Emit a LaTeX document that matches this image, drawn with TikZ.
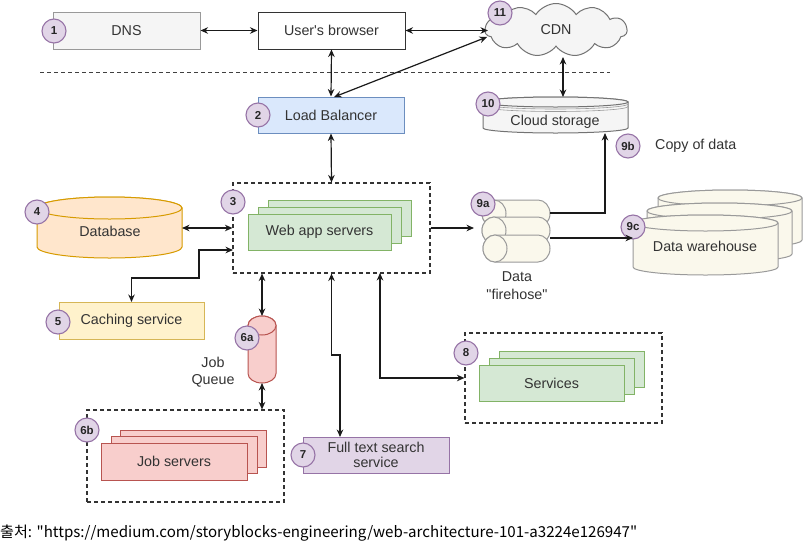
\documentclass[tikz,border=0pt]{standalone}
\usepackage{fontspec}
\setmainfont{Liberation Sans}[Ligatures=TeXOff]
\newfontfamily\krfont{Noto Sans CJK KR}[Ligatures=TeXOff]
\usetikzlibrary{shapes.symbols,arrows.meta}
\definecolor{txt}{HTML}{333333}
\definecolor{arr}{HTML}{1A1A1A}
\definecolor{bdgf}{HTML}{E1D5E7}
\definecolor{bdgd}{HTML}{9673A6}
\definecolor{grf}{HTML}{F5F5F5}
\definecolor{grd}{HTML}{999999}
\definecolor{blf}{HTML}{DAE8FC}
\definecolor{bld}{HTML}{6C8EBF}
\definecolor{gbf}{HTML}{D5E8D4}
\definecolor{gbd}{HTML}{82B366}
\definecolor{rbf}{HTML}{F8CECC}
\definecolor{rbd}{HTML}{B85450}
\definecolor{obf}{HTML}{FFE6CC}
\definecolor{obd}{HTML}{D79B00}
\definecolor{ybf}{HTML}{FFF2CC}
\definecolor{ybd}{HTML}{D6B656}
\definecolor{crf}{HTML}{FAF8EC}
\definecolor{crd}{HTML}{9A9A9A}
\newcommand\vcyl[6]{%
  \path[#1] (#2,#3+#6) -- (#2,#5-#6) arc[start angle=180,end angle=0,x radius={(#4-#2)/2},y radius=#6] -- (#4,#3+#6) arc[start angle=0,end angle=-180,x radius={(#4-#2)/2},y radius=#6] -- cycle;
  \path[#1] ({(#2+#4)/2},#3+#6) ellipse[x radius={(#4-#2)/2},y radius=#6];
}
\newcommand\hcyl[6]{%
  \path[#1] (#2+#6,#3) -- (#4-#6,#3) arc[start angle=-90,end angle=90,x radius=#6,y radius={(#5-#3)/2}] -- (#2+#6,#5) arc[start angle=90,end angle=270,x radius=#6,y radius={(#5-#3)/2}] -- cycle;
  \path[#1] (#2+#6,{(#3+#5)/2}) ellipse[x radius=#6,y radius={(#5-#3)/2}];
}
\begin{document}
\begin{tikzpicture}[x=1pt,y=-1pt,
  font=\fontsize{14.3}{16}\selectfont,
  >={Stealth[length=7.5pt,width=6.5pt]},
  every node/.style={text=txt},
  wh/.style 2 args={minimum width=#1,minimum height=#2},
  box/.style={draw, line width=1pt, inner sep=2pt, align=center},
  gbox/.style={box, draw=gbd, fill=gbf, wh={143}{36}},
  rbox/.style={box, draw=rbd, fill=rbf, wh={146}{37}},
  sbox/.style={box, draw=gbd, fill=gbf, wh={145}{36}},
  dbox/.style={draw=black!80, line width=1.1pt, dash pattern=on 4pt off 3pt, inner sep=0},
  badge/.style={circle, fill=bdgf, draw=bdgd, line width=1.1pt, minimum size=24pt, inner sep=0, font=\bfseries\fontsize{11.5}{12}\selectfont, text=black!85},
  conn/.style={draw=arr, line width=1.2pt},
  cyl/.style={fill=#1, draw=crd, line width=1pt},
  sep/.style={draw=black!75, line width=1pt, dash pattern=on 4pt off 3pt}]
\fill[white] (0,0) rectangle (808,552);
\useasboundingbox (0,0) rectangle (808,552);

% separator
\coordinate (sepL) at (40,72);
\coordinate (sepR) at (610,72);
\draw[sep] (sepL) -- (sepR);

% top row
\node[box, draw=grd, fill=grf, wh={147}{37}] (dns) at (126.5,30.5) {DNS};
\node[box, draw=black!80, fill=white, wh={147}{37}] (browser) at (331.5,30.5) {User's browser};
\node[cloud, cloud puffs=11, cloud puff arc=115, aspect=2.6, draw=black!55, fill=grf, line width=1pt, minimum width=142pt, minimum height=53pt, inner sep=0] (cdn) at (556,30) {CDN};

% load balancer and cloud storage
\node[box, draw=bld, fill=blf, wh={146}{36}] (lb) at (331,115) {Load Balancer};
\vcyl{cyl=grf, draw=black!55}{483}{97}{628}{133}{5}
\draw[black!40, line width=0.6pt] (483,104) arc[start angle=180,end angle=0,x radius=72.5,y radius=5];
\draw[black!40, line width=0.6pt] (483,106.5) arc[start angle=180,end angle=0,x radius=72.5,y radius=5];
\node (cs) at (555,122) {Cloud storage};
\node (copy) [anchor=west, inner sep=0] at (655,146) {Copy of data};

% web app servers
\node[dbox, wh={197}{90}] (webbox) at (331.5,228) {};
\node[gbox] (webc) at (339.5,218) {};
\node[gbox] (webb) at (329.5,225) {};
\node[gbox] (web) at (319.5,232) {Web app servers};

% database
\vcyl{cyl=obf, draw=obd}{37}{197}{182}{258}{11}
\node (db) at (110,231) {Database};

% caching
\node[box, draw=ybd, fill=ybf, wh={145}{37}] (cache) at (131.5,320.5) {Caching service};

% job queue
\vcyl{cyl=rbf, draw=rbd}{248}{316}{276}{383}{9.5}
\node[align=center, font=\fontsize{14.3}{17}\selectfont] (jql) at (213,372) {Job\\Queue};

% job servers
\node[dbox, wh={197}{92}] (jobbox) at (185.5,456) {};
\node[rbox] (jobc) at (193,448.5) {};
\node[rbox] (jobb) at (184,454.5) {};
\node[rbox] (job) at (174,461.5) {Job servers};

% full text search
\node[box, draw=bdgd, fill=bdgf, wh={146}{36}, inner sep=1pt, font=\fontsize{14.3}{15.5}\selectfont] (fts) at (376,455) {Full text search\\service};

% services
\node[dbox, wh={197}{90}] (svcbox) at (563.5,378) {};
\node[sbox] (svcc) at (571.5,369) {};
\node[sbox] (svcb) at (561.5,376) {};
\node[sbox] (svc) at (551.5,383) {Services};

% firehose
\hcyl{cyl=crf}{482}{200}{550}{227}{12}
\hcyl{cyl=crf}{482}{217}{550}{244}{12}
\hcyl{cyl=crf}{483}{235}{550}{262}{12}
\node[align=center, font=\fontsize{14.3}{18}\selectfont] (fhl) at (517,286) {Data\\"firehose"};

% data warehouse
\vcyl{cyl=crf}{658}{190}{802}{248}{8}
\vcyl{cyl=crf}{647}{203}{792}{262}{8}
\vcyl{cyl=crf}{633}{215}{778}{275}{8}
\node (dw) at (705,246) {Data warehouse};

% badges
\node[badge] (b1) at (54,31) {1};
\node[badge] (b2) at (258,115) {2};
\node[badge] (b11) at (500,13) {11};
\node[badge] (b10) at (488,104) {10};
\node[badge] (b9b) at (628,146) {9b};
\node[badge] (b3) at (233,202) {3};
\node[badge] (b4) at (37,212) {4};
\node[badge] (b5) at (58,322) {5};
\node[badge] (b6a) at (247,338) {6a};
\node[badge] (b6b) at (87,430) {6b};
\node[badge] (b7) at (303,455) {7};
\node[badge] (b8) at (466,353) {8};
\node[badge] (b9a) at (483,204) {9a};
\node[badge] (b9c) at (633,227) {9c};

% coordinates for connectors
\coordinate (cdnL) at (488,30.5);
\coordinate (lbNE) at (334,97);
\coordinate (cdnSW) at (487,37);
\coordinate (cdnS) at (563,57);
\coordinate (csTop) at (563,97);
\coordinate (csBot) at (605,133);
\coordinate (dbE) at (182,228);
\coordinate (webCache) at (233,250);
\coordinate (cacheTop) at (131.5,302);
\coordinate (jqTop) at (262,316);
\coordinate (jqBot) at (262,383);
\coordinate (ftsTop) at (340,437);
\coordinate (webSvc) at (380,273);
\coordinate (fhW) at (474,228);
\coordinate (fhTop) at (550,213);
\coordinate (fhBot) at (550,238);
\coordinate (dwW) at (633,238);

% connectors
\draw[conn,<->] (dns.east) -- (browser.west);
\draw[conn,<->] (browser.east) -- (cdnL);
\draw[conn,<->] (browser.south) -- (lb.north);
\draw[conn,<->] (lbNE) -- (cdnSW);
\draw[conn,<->] (cdnS) -- (csTop);
\draw[conn,<->] (lb.south) -- (webbox.north);
\draw[conn,<->] (dbE) -- (webbox.west);
\draw[conn,<->] (webCache) -- (199,250) -- (199,278) -- (131.5,278) -- (cacheTop);
\draw[conn,<->] (webbox.south -| jqTop) -- (jqTop);
\draw[conn,<->] (jqBot) -- (jobbox.north -| jqBot);
\draw[conn,<->] (webbox.south) -- (331.5,355) -- (340,355) -- (ftsTop);
\draw[conn,<->] (webSvc) |- (svcbox.west);
\draw[conn,->] (webbox.east) -- (fhW);
\draw[conn,->] (fhTop) -| (csBot);
\draw[conn,->] (fhBot) -- (dwW);

% footer
\node[anchor=west, inner sep=0, text=black] (src) at (0,533) {\resizebox{637pt}{!}{\krfont 출처: "https://medium.com/storyblocks-engineering/web-architecture-101-a3224e126947"}};
\end{tikzpicture}
\end{document}
